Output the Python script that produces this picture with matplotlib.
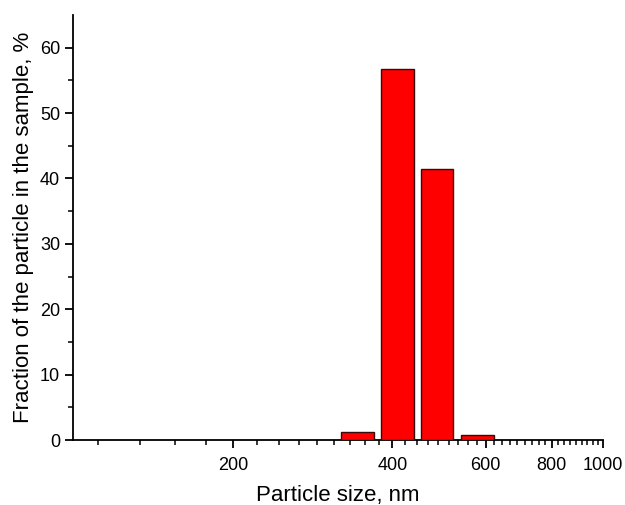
import numpy as np
import matplotlib
matplotlib.use("Agg")
import matplotlib.pyplot as plt
from matplotlib.ticker import FixedLocator, NullFormatter

# particle size distribution (bin centres in nm, fraction in %)
sizes = [344, 409, 486, 579]
fractions = [1.2, 56.7, 41.5, 0.7]

x_major = [200, 400, 600, 800, 1000]
x_labels = ["200", "400", "600", "800", "1000"]

plt.rcParams["font.family"] = ["Liberation Sans", "DejaVu Sans"]

fig = plt.figure(figsize=(6.25, 5.05), dpi=100)
ax = fig.add_axes([0.1173, 0.1287, 0.8477, 0.8416])

# bars are drawn on a log axis, so set the width in decades
half_w = 0.0305
lefts = [s / 10 ** half_w for s in sizes]
widths = [s * 10 ** half_w - l for s, l in zip(sizes, lefts)]
ax.bar(lefts, fractions, width=widths, align="edge",
       color="#ff0000", edgecolor="#3a0a0a", linewidth=1.0, zorder=3)

ax.set_xscale("log")
ax.set_xlim(100, 1000)
ax.set_ylim(0, 65)

ax.xaxis.set_major_locator(FixedLocator(x_major))
ax.set_xticklabels(x_labels)
step = 200 / 9
minor = [v for v in np.arange(200 - 4 * step, 1000, step)
         if v > 100 and all(abs(v - m) > 1 for m in x_major)]
ax.xaxis.set_minor_locator(FixedLocator(minor))
ax.xaxis.set_minor_formatter(NullFormatter())

ax.set_yticks(np.arange(0, 61, 10))
ax.set_yticks(np.arange(5, 65, 10), minor=True)

for side in ["top", "right"]:
    ax.spines[side].set_visible(False)
for side in ["left", "bottom"]:
    ax.spines[side].set_linewidth(1.3)

ax.tick_params(which="major", direction="out", length=6, width=1.3, labelsize=13)
ax.tick_params(axis="x", which="major", pad=6)
ax.tick_params(which="minor", direction="out", length=3.5, width=1.1)

ax.set_xlabel("Particle size, nm", fontsize=16, labelpad=8)
ax.set_ylabel("Fraction of the particle in the sample, %", fontsize=16, labelpad=4)

fig.savefig("out.png", dpi=100)
